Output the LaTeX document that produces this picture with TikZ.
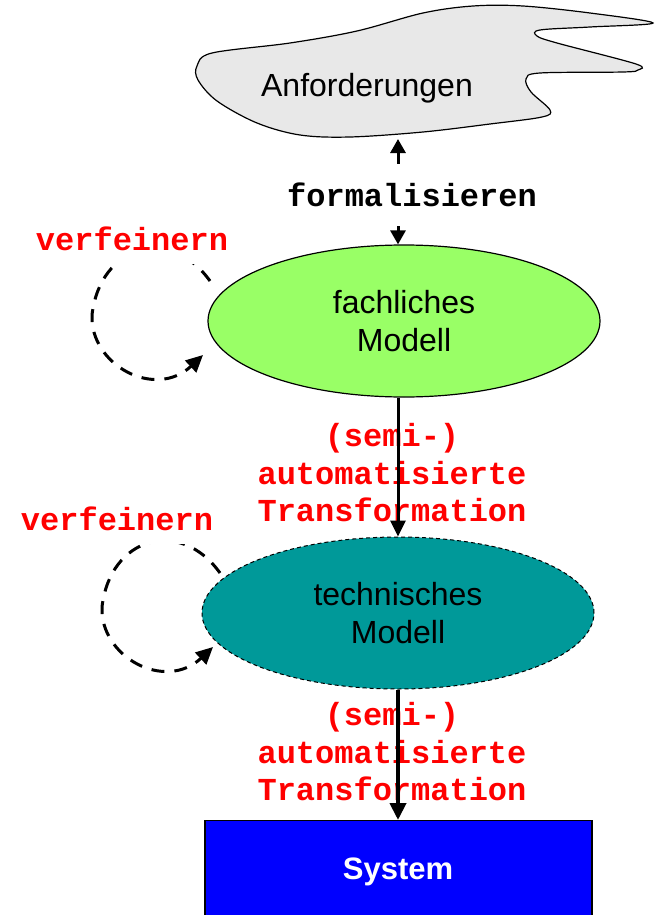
\documentclass[tikz,border=0pt]{standalone}
\usepackage{fontspec}
\setmainfont{Liberation Sans}
\newfontfamily\cour{Liberation Mono}
\usetikzlibrary{shapes.geometric,arrows.meta}
\definecolor{cloudgray}{HTML}{E8E8E8}
\definecolor{fachgreen}{HTML}{99FF66}
\definecolor{techteal}{HTML}{009999}
\definecolor{sysblue}{HTML}{0000FF}
\tikzset{
  bigtext/.style={font=\fontsize{32}{38}\selectfont, align=center},
  monolabel/.style={font=\cour\bfseries\fontsize{32}{37.5}\selectfont, align=center, inner sep=0pt},
  redlabel/.style={monolabel, text=red},
  mainarrow/.style={line width=3pt, -{Triangle[width=15pt,length=16pt]}},
  loopline/.style={line width=3pt, dash pattern=on 13pt off 10pt, -{Triangle[width=16pt,length=17pt]}},
  modelellipse/.style={ellipse, minimum width=392pt, minimum height=152pt, inner sep=0pt, bigtext}
}
\begin{document}
\begin{tikzpicture}[x=1pt,y=-1pt]
\useasboundingbox (0,0) rectangle (655,915);
\clip (0,0) rectangle (655,915);
% cloud
\draw[fill=cloudgray, line width=1.2pt] plot[smooth cycle, tension=0.55] coordinates {
 (197,66) (212,53) (290,43) (357,31) (423,13) (473,6) (523,6) (590,13) (653,23)
 (590,27) (540,30) (537,36) (557,43) (636,64) (638,70) (623,72) (540,73) (526,79)
 (531,92) (550,110) (542,117) (490,124) (423,132) (350,137) (300,135) (257,123) (217,101) (198,80)};
\node[bigtext] (cloud) at (367,88) {Anforderungen};
\coordinate (cloudbot) at (398,139);
\coordinate (axis) at (398,0);

% formalisieren
\node[monolabel, minimum height=62pt] (form) at (412,195) {formalisieren};

% ellipses
\node[modelellipse, fill=fachgreen, draw, line width=1.2pt] (fach) at (404,321) {fachliches\\Modell};
\node[modelellipse, fill=techteal, draw, line width=1pt, dash pattern=on 4pt off 3pt] (tech) at (398,613) {technisches\\Modell};

% system
\node[draw, line width=1.2pt, fill=sysblue, minimum width=387pt, minimum height=110pt, anchor=north, inner sep=0pt] (sys) at (398.5,820) {};
\node[font=\bfseries\fontsize{31}{36}\selectfont, text=white] (systxt) at (398,872) {System};

% formalisieren arrows
\draw[line width=3pt, -{Triangle[width=15pt,length=14pt]}] (form.north -| axis) -- (cloudbot);
\draw[line width=3pt, -{Triangle[width=15pt,length=14pt]}] (form.south -| axis) -- (fach.north -| axis);

% transformation labels
\node[redlabel] (trans1) at (392,473) {(semi-)\\automatisierte\\Transformation};
\node[redlabel] (trans2) at (392,752) {(semi-)\\automatisierte\\Transformation};

% main arrows
\draw[mainarrow] (fach.south -| axis) -- (tech.north -| axis);
\draw[line width=4pt, -{Triangle[width=16pt,length=17pt]}] (tech.south -| axis) -- (sys.north -| axis);

% refinement loops
\coordinate (l1s) at (210,281);
\coordinate (l1e) at (203,355);
\draw[loopline] (l1s) .. controls (170,225) and (100,245) .. (92,315)
  .. controls (90,365) and (155,400) .. (l1e);
\coordinate (l2s) at (220,573);
\coordinate (l2e) at (213,647);
\draw[loopline] (l2s) .. controls (180,517) and (110,537) .. (102,607)
  .. controls (100,657) and (165,692) .. (l2e);

\node[redlabel, fill=white, inner xsep=3pt, inner ysep=13pt] (ref1) at (132,239) {verfeinern};
\node[redlabel, fill=white, inner xsep=3pt, inner ysep=13pt] (ref2) at (117,519) {verfeinern};
\end{tikzpicture}
\end{document}
